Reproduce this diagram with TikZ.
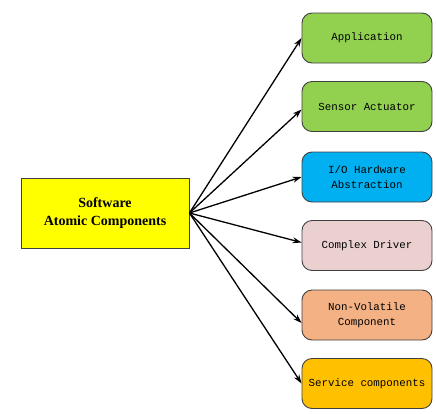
\documentclass[tikz,border=0pt]{standalone}
\usepackage{fontspec}
\setmainfont{Liberation Serif}
\newfontfamily\boxmono{Liberation Mono}
\usetikzlibrary{arrows.meta}
\definecolor{cgreen}{HTML}{92D050}
\definecolor{cblue}{HTML}{00B0F0}
\definecolor{cpink}{HTML}{EBD0D0}
\definecolor{corange}{HTML}{F4B183}
\definecolor{cgold}{HTML}{FFC000}
\definecolor{cyel}{HTML}{FFFF00}
\definecolor{cedge}{HTML}{404040}
\tikzset{
  mainbox/.style={draw=cedge, line width=0.9pt, fill=cyel, minimum width=168pt, minimum height=70pt,
    align=center, font=\fontsize{14}{18}\selectfont\bfseries, inner sep=0pt},
  compbox/.style={draw=cedge, line width=0.9pt, rounded corners=10pt, minimum width=130pt, minimum height=50pt,
    align=center, font=\boxmono\fontsize{10.8}{15}\selectfont, inner sep=0pt},
  conn/.style={-{Stealth[length=9pt,width=6pt]}, line width=1.3pt, black}
}
\begin{document}
\begin{tikzpicture}[x=1pt,y=-1pt]
\useasboundingbox (0,0) rectangle (436,413);
\node[mainbox] (sw) at (105,213) {Software\\Atomic Components};
\node[compbox, fill=cgreen] (app) at (367,38) {Application};
\node[compbox, fill=cgreen] (sen) at (367,106.5) {Sensor Actuator};
\node[compbox, fill=cblue] (io) at (367,177) {I/O Hardware\\Abstraction};
\node[compbox, fill=cpink] (cd) at (367,245.5) {Complex Driver};
\node[compbox, fill=corange] (nv) at (367,315) {Non-Volatile\\Component};
\node[compbox, fill=cgold] (sc) at (367,383.5) {Service components};
\coordinate (src) at (sw.east);
\draw[conn] (src) -- (app.west);
\draw[conn] (src) -- ([yshift=-3pt]sen.west);
\draw[conn] (src) -- (io.west);
\draw[conn] (src) -- ([yshift=3pt]cd.west);
\draw[conn] (src) -- ([yshift=-8pt]nv.west);
\draw[conn] (src) -- (sc.west);
\end{tikzpicture}
\end{document}
